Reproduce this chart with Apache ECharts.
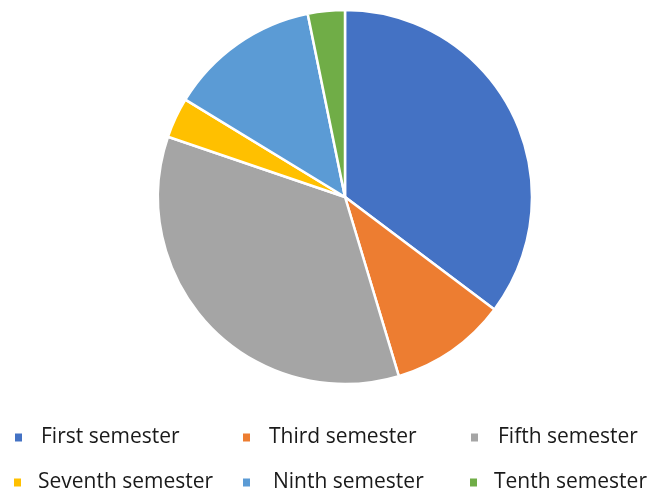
<!DOCTYPE html>
<html>
<head>
<meta charset="utf-8">
<script src="https://cdn.jsdelivr.net/npm/echarts@6/dist/echarts.min.js"></script>
<style>
  html, body { margin: 0; padding: 0; background: #ffffff; }
  #chart { width: 648px; height: 493px; }
</style>
</head>
<body>
<div id="chart"></div>
<script>
// Share of students by semester
const categories = ['First semester', 'Third semester', 'Fifth semester', 'Seventh semester', 'Ninth semester', 'Tenth semester'];
const shares = [35.3, 10.1, 34.9, 3.5, 13.1, 3.2];
const colors = ['#4472C4', '#ED7D31', '#A5A5A5', '#FFC000', '#5B9BD5', '#70AD47'];

// Legend placement: one legend per entry so each sits in its own column/row
const legendSpots = [
  { left: 13, top: 427 }, { left: 241, top: 427 }, { left: 469, top: 427 },
  { left: 12, top: 472 }, { left: 241, top: 472 }, { left: 468, top: 472 }
];
const legendTextPad = [13, 13, 14, 11, 17, 11];

const chart = echarts.init(document.getElementById('chart'), null, { renderer: 'canvas' });

const legends = categories.map((name, i) => ({
  data: [name],
  left: legendSpots[i].left,
  top: legendSpots[i].top,
  icon: 'rect',
  itemWidth: 9,
  itemHeight: 10,
  itemGap: 0,
  padding: 0,
  textStyle: {
    fontFamily: 'Open Sans',
    fontSize: 21,
    color: '#1a1a1a',
    padding: [0, 0, 0, legendTextPad[i]]
  },
  selectedMode: false
}));

chart.setOption({
  animation: false,
  color: colors,
  legend: legends,
  series: [{
    type: 'pie',
    center: [345, 197],
    radius: [0, 187],
    startAngle: 90,
    clockwise: true,
    label: { show: false },
    labelLine: { show: false },
    itemStyle: { borderColor: '#ffffff', borderWidth: 2.5 },
    emphasis: { disabled: true },
    data: categories.map((name, i) => ({ name: name, value: shares[i] }))
  }]
});
</script>
</body>
</html>
